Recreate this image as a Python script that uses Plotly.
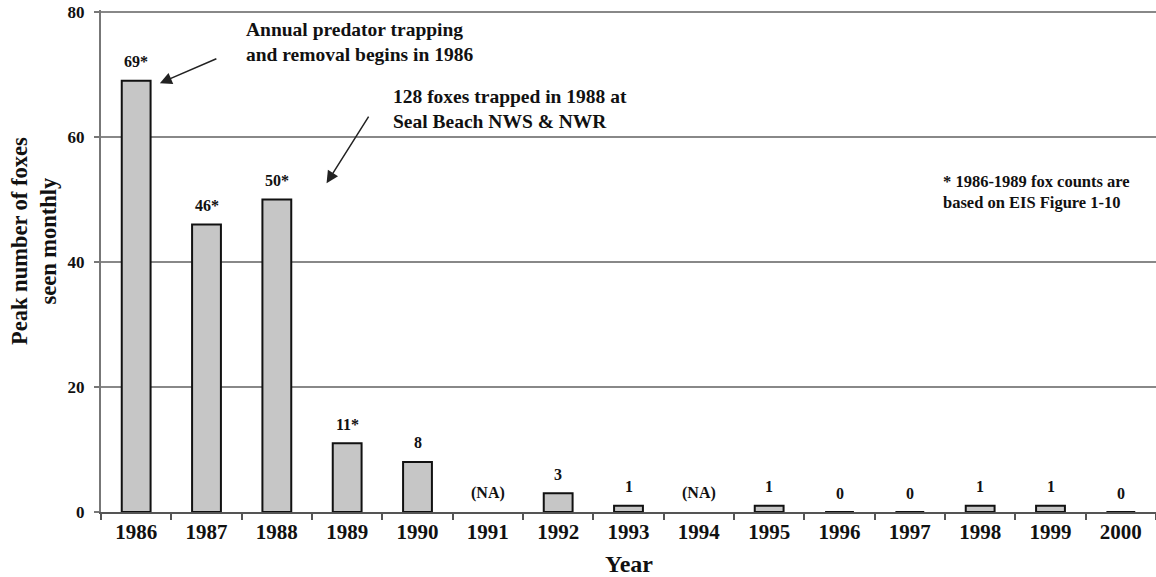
import plotly.graph_objects as go

years = ["1986", "1987", "1988", "1989", "1990", "1991", "1992", "1993",
         "1994", "1995", "1996", "1997", "1998", "1999", "2000"]
foxes = [69, 46, 50, 11, 8, None, 3, 1, None, 1, 0, 0, 1, 1, 0]
bar_labels = ["69*", "46*", "50*", "11*", "8", "(NA)", "3", "1", "(NA)",
              "1", "0", "0", "1", "1", "0"]
y_ticks = [0, 20, 40, 60, 80]

FONT = "Liberation Serif"
INK = "#111111"

W, H = 1156, 577
L, T, PW, PH = 101, 10, 1055, 502
Y_TOP = 80.3  # a little headroom so the 80 gridline is drawn

def px_to_paper_y(py):
    return (T + PH - py) / PH

def px_to_paper_x(px):
    return (px - L) / PW

fig = go.Figure()
fig.add_trace(go.Bar(
    x=years, y=foxes, width=0.41,
    marker=dict(color="#c6c6c6", line=dict(color="#111111", width=2)),
    showlegend=False, hoverinfo="skip",
))

annotations = []
for i, (v, lab) in enumerate(zip(foxes, bar_labels)):
    annotations.append(dict(
        x=i, y=(v if v is not None else 0), xref="x", yref="y",
        text=f"<b>{lab}</b>", showarrow=False, yanchor="middle",
        yshift=19, font=dict(family=FONT, size=16, color=INK),
    ))

# Arrows
annotations.append(dict(x=0.337, y=68.6, xref="x", yref="y", ax=58, ay=-25,
                        text="", showarrow=True, arrowhead=2, arrowsize=1.6,
                        arrowwidth=1.5, arrowcolor="#222222"))
annotations.append(dict(x=2.707, y=52.6, xref="x", yref="y", ax=43, ay=-68,
                        text="", showarrow=True, arrowhead=2, arrowsize=1.6,
                        arrowwidth=1.5, arrowcolor="#222222"))

# Text notes
annotations.append(dict(x=1.529, y=75.2, xref="x", yref="y", xanchor="left",
                        yanchor="middle", align="left", showarrow=False,
                        text="<b>Annual predator trapping<br>and removal begins in 1986</b>",
                        font=dict(family=FONT, size=19.5, color=INK)))
annotations.append(dict(x=3.629, y=64.4, xref="x", yref="y", xanchor="left",
                        yanchor="middle", align="left", showarrow=False,
                        text="<b>128 foxes trapped in 1988 at<br>Seal Beach NWS &amp; NWR</b>",
                        font=dict(family=FONT, size=19.5, color=INK)))
annotations.append(dict(x=11.448, y=51.2, xref="x", yref="y", xanchor="left",
                        yanchor="middle", align="left", showarrow=False,
                        text="<b>* 1986-1989 fox counts are<br>based on EIS Figure 1-10</b>",
                        font=dict(family=FONT, size=16.5, color=INK)))

# Axis titles
annotations.append(dict(x=px_to_paper_x(34), y=px_to_paper_y(241), xref="paper", yref="paper",
                        xanchor="center", yanchor="middle", textangle=-90, showarrow=False,
                        text="<b>Peak number of foxes<br>seen monthly</b>",
                        font=dict(family=FONT, size=22.5, color=INK)))
annotations.append(dict(x=px_to_paper_x(629), y=px_to_paper_y(564), xref="paper", yref="paper",
                        xanchor="center", yanchor="middle", showarrow=False,
                        text="<b>Year</b>",
                        font=dict(family=FONT, size=24, color=INK)))

fig.update_layout(
    width=W, height=H,
    margin=dict(l=L, r=W - L - PW, t=T, b=H - T - PH, autoexpand=False),
    paper_bgcolor="white", plot_bgcolor="white",
    annotations=annotations,
)
fig.update_xaxes(
    type="category", range=[-0.5, 14.5],
    showline=True, linecolor="#555555", linewidth=2,
    ticks="outside", tickson="boundaries", ticklen=6, tickcolor="#555555", tickwidth=1.5,
    tickfont=dict(family=FONT, size=21, color=INK),
    tickprefix="<b>", ticksuffix="</b>",
    showgrid=False,
)
fig.update_yaxes(
    range=[0, Y_TOP], tickvals=y_ticks, ticktext=[f"<b>{t}</b>" for t in y_ticks],
    showline=True, linecolor="#777777", linewidth=2,
    ticks="outside", ticklen=5, tickcolor="#777777", tickwidth=1.5,
    ticklabelstandoff=6, ticklabeloverflow="allow",
    tickfont=dict(family=FONT, size=17, color=INK),
    showgrid=True, gridcolor="#888888", gridwidth=2,
    zeroline=False,
)

fig.write_html("out.html",
               config={"displayModeBar": False},
               post_script="document.body.style.margin='0';document.body.style.overflow='hidden';")
